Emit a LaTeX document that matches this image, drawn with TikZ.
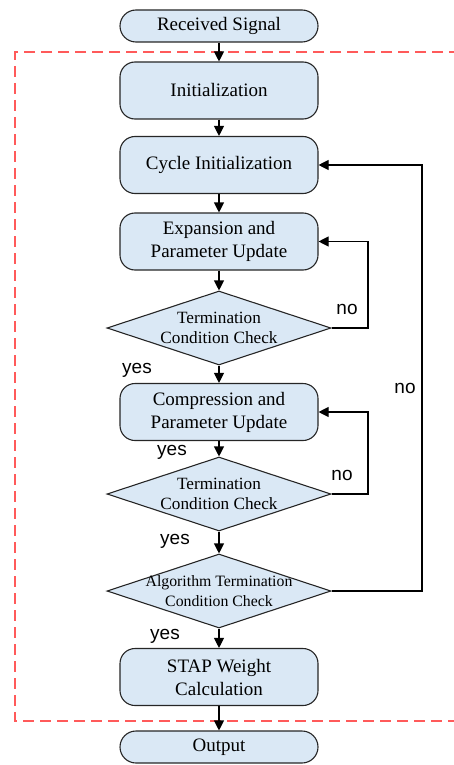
\documentclass[tikz,border=0pt]{standalone}
\usepackage{fontspec}
\setmainfont{Liberation Serif}
\newfontfamily\lsans{Liberation Sans}
\usetikzlibrary{shapes.geometric,arrows.meta}
\definecolor{boxfill}{HTML}{DAE8F5}
\definecolor{dashred}{HTML}{FF5A5A}
\tikzset{
  proc/.style={draw=black!85, line width=1.1pt, fill=boxfill, rounded corners=15pt,
    minimum width=198pt, minimum height=57pt, align=center, inner sep=0pt,
    font=\fontsize{19}{23}\selectfont},
  pill/.style={draw=black!85, line width=1.1pt, fill=boxfill, rounded corners=16pt,
    minimum width=198pt, minimum height=32pt, align=center, inner sep=0pt,
    font=\fontsize{19}{23}\selectfont},
  dia/.style={diamond, draw=black!85, line width=1.1pt, fill=boxfill, inner sep=0pt,
    minimum width=224pt, minimum height=74pt},
  dtext/.style={align=center, inner sep=0pt, font=\fontsize{17.2}{20}\selectfont},
  dtextsm/.style={align=center, inner sep=0pt, font=\fontsize{15.8}{20}\selectfont},
  lab/.style={inner sep=0pt, font=\lsans\fontsize{19}{22}\selectfont},
  arr/.style={line width=1.1pt, -{Triangle[length=10pt,width=10pt]}},
}
\begin{document}
\begin{tikzpicture}[x=1pt,y=-1pt]
\useasboundingbox (0,0) rectangle (454,765);
\draw[dashred, line width=1.3pt, dash pattern=on 11pt off 6pt] (460,52) -- (15,52) -- (15,721) -- (460,721);

\node[pill] (rs) at (219,26) {Received Signal};
\node[proc] (init) at (219,90.5) {Initialization};
\node[proc] (cyc) at (219,165) {Cycle Initialization};
\node[proc] (exp) at (219,241.5) {Expansion and\\Parameter Update};
\node[dia] (d1) at (219,328) {};
\node[dtext] (d1t) at (d1) {Termination\\Condition Check};
\node[proc] (comp) at (219,412) {Compression and\\Parameter Update};
\node[dia] (d2) at (219,494) {};
\node[dtext] (d2t) at (d2) {Termination\\Condition Check};
\node[dia] (d3) at (219,591) {};
\node[dtextsm] (d3t) at (d3) {Algorithm Termination\\Condition Check};
\node[proc] (stap) at (219,677) {STAP Weight\\Calculation};
\node[pill] (out) at (219,747) {Output};

\draw[arr] (rs) -- (init);
\draw[arr] (init) -- (cyc);
\draw[arr] (cyc) -- (exp);
\draw[arr] (exp) -- (d1);
\draw[arr] (d1) -- (comp);
\draw[arr] (comp) -- (d2);
\draw[arr] (d2) -- (d3);
\draw[arr] (d3) -- (stap);
\draw[arr] (stap) -- (out);

\coordinate (c1) at (368,0);
\coordinate (c3) at (422,0);
\draw[arr] (d1.east) -- (d1.east -| c1) -- (exp.east -| c1) -- (exp.east);
\draw[arr] (d2.east) -- (d2.east -| c1) -- (comp.east -| c1) -- (comp.east);
\draw[arr] (d3.east) -- (d3.east -| c3) -- (cyc.east -| c3) -- (cyc.east);

\node[lab] (no1) at (347,309) {no};
\node[lab] (no2) at (342,475) {no};
\node[lab] (no3) at (405,388) {no};
\node[lab] (yes1) at (137,370) {yes};
\node[lab] (yes2) at (172,452) {yes};
\node[lab] (yes3) at (175,541) {yes};
\node[lab] (yes4) at (165,636) {yes};
\end{tikzpicture}
\end{document}
